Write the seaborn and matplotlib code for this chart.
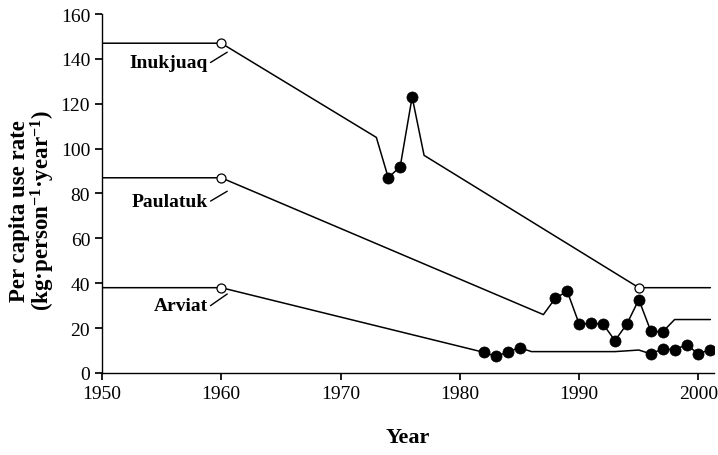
import numpy as np
import pandas as pd
import matplotlib
matplotlib.use("Agg")
import matplotlib.pyplot as plt
import seaborn as sns

# Values
inuk_years = [1950, 1960, 1973, 1974, 1975, 1976, 1977, 1995, 2001]
inuk_vals = [147, 147, 105, 87, 92, 123, 97, 38, 38]
inuk_filled = [1974, 1975, 1976]
inuk_open = [1960, 1995]

paul_years = [1950, 1960, 1987, 1988, 1989, 1990, 1991, 1992, 1993, 1994,
              1995, 1996, 1997, 1998, 2001]
paul_vals = [87, 87, 26, 33.3, 36.4, 21.8, 22.1, 21.8, 14.4, 21.8,
             32.7, 18.7, 18.3, 23.8, 23.8]
paul_filled = [1988, 1989, 1990, 1991, 1992, 1993, 1994, 1995, 1996, 1997]
paul_open = [1960]

arv_years = [1950, 1960, 1982, 1983, 1984, 1985, 1986, 1993, 1995, 1996,
             1997, 1998, 1999, 2000, 2001]
arv_vals = [38, 38, 9.2, 7.4, 9.2, 11.3, 9.5, 9.5, 10.2, 8.5,
            10.7, 10.4, 12.5, 8.5, 10.4]
arv_filled = [1982, 1983, 1984, 1985, 1996, 1997, 1998, 1999, 2000, 2001]
arv_open = [1960]

site_names = ["Inukjuaq", "Paulatuk", "Arviat"]
x_ticks = [1950, 1960, 1970, 1980, 1990, 2000]
y_ticks = [0, 20, 40, 60, 80, 100, 120, 140, 160]

sns.set_theme(style="ticks")
plt.rcParams.update({
    "font.family": ["Liberation Serif", "DejaVu Serif"],
    "mathtext.fontset": "custom",
    "mathtext.rm": "Liberation Serif",
    "mathtext.bf": "Liberation Serif:bold",
    "mathtext.default": "bf",
    "text.color": "black",
    "axes.labelcolor": "black",
    "axes.edgecolor": "black",
    "axes.linewidth": 1.0,
    "xtick.color": "black",
    "ytick.color": "black",
    "xtick.major.size": 5,
    "ytick.major.size": 5,
    "xtick.labelsize": 14,
    "ytick.labelsize": 14,
})

fig, ax = plt.subplots(figsize=(7.18, 4.56), dpi=100)
fig.subplots_adjust(left=0.142, right=0.9944, bottom=0.18, top=0.967)

sites = [
    (inuk_years, inuk_vals, inuk_filled, inuk_open),
    (paul_years, paul_vals, paul_filled, paul_open),
    (arv_years, arv_vals, arv_filled, arv_open),
]

for name, (yrs, vals, filled, opened) in zip(site_names, sites):
    df = pd.DataFrame({"year": yrs, "value": vals})
    sns.lineplot(data=df, x="year", y="value", ax=ax, color="black",
                 lw=1.1, sort=False, estimator=None)
    df_f = df[df["year"].isin(filled)]
    sns.scatterplot(data=df_f, x="year", y="value", ax=ax, color="black",
                    s=64, edgecolor="black", linewidth=0.5, zorder=3)
    df_o = df[df["year"].isin(opened)]
    sns.scatterplot(data=df_o, x="year", y="value", ax=ax, facecolor="white",
                    edgecolor="black", s=42, linewidth=0.9, zorder=3)

# Site labels with short leader lines to the open circle at 1960
label_off = [(-8.6, -4.0), (-10.4, -6.0), (-8.0, -2.8)]
for name, (yrs, vals, _, _), (dy_text, dy_lead) in zip(site_names, sites, label_off):
    v0 = vals[1]
    ax.text(1958.85, v0 + dy_text, name, ha="right", va="center",
            fontsize=14, fontweight="bold")
    ax.plot([1959.1, 1960.5], [v0 + dy_text, v0 + dy_lead],
            color="black", lw=1.0)

ax.set_xlim(1950, 2001.3)
ax.set_ylim(0, 160)
ax.set_xticks(x_ticks)
ax.set_yticks(y_ticks)
sns.despine(ax=ax)

ax.set_xlabel("Year", fontsize=16, fontweight="bold")
ax.xaxis.set_label_coords(0.5, -0.15)
ax.set_ylabel("Per capita use rate\n(kg·person$^{-1}$·year$^{-1}$)",
              fontsize=16.5, fontweight="bold", linespacing=0.95)
ax.yaxis.set_label_coords(-0.074, 0.455)

fig.savefig("out.png", dpi=100)
